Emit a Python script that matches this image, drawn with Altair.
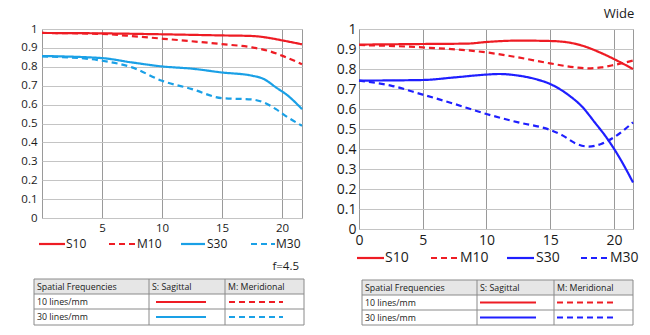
import altair as alt
import pandas as pd

FONT = "Open Sans"
SERIES = ["S10", "M10", "S30", "M30"]
DASHES = [[1, 0], [6, 4], [1, 0], [6, 4]]

# ---- Left chart (f=4.5) ----
L_S10_x = [0, 5, 10, 15, 17.5, 19, 20, 21.67]
L_S10_v = [0.979, 0.977, 0.972, 0.966, 0.963, 0.952, 0.940, 0.919]
L_M10_x = [0, 5, 7, 10, 15, 17.5, 19, 20, 21.67]
L_M10_v = [0.979, 0.974, 0.965, 0.949, 0.920, 0.903, 0.882, 0.859, 0.814]
L_S30_x = [0, 5, 7.5, 10, 12.5, 15, 17.5, 18.5, 19.5, 20.5, 21.67]
L_S30_v = [0.857, 0.846, 0.823, 0.802, 0.790, 0.770, 0.753, 0.735, 0.691, 0.647, 0.576]
L_M30_x = [0, 4, 5, 7.5, 10, 12.5, 15, 17.5, 18.5, 19.5, 20.5, 21.67]
L_M30_v = [0.855, 0.841, 0.832, 0.797, 0.726, 0.682, 0.634, 0.627, 0.611, 0.576, 0.532, 0.488]

# ---- Right chart (Wide) ----
R_S10_x = [0, 5, 8.5, 10, 12.5, 15, 16.5, 17.5, 19, 20, 21.5]
R_S10_v = [0.922, 0.925, 0.927, 0.935, 0.942, 0.940, 0.932, 0.917, 0.880, 0.850, 0.800]
R_M10_x = [0, 5, 10, 12.5, 15, 17, 18, 19, 20, 21.5]
R_M10_v = [0.920, 0.908, 0.883, 0.858, 0.828, 0.808, 0.803, 0.808, 0.820, 0.842]
R_S30_x = [0, 5, 7.5, 10, 11, 12.5, 14, 15, 16.5, 17.5, 18.5, 19.5, 20.5, 21.5]
R_S30_v = [0.742, 0.745, 0.758, 0.772, 0.775, 0.767, 0.747, 0.725, 0.667, 0.612, 0.533, 0.450, 0.350, 0.233]
R_M30_x = [0, 2.5, 5, 7.5, 10, 12.5, 15, 16, 17, 18, 19, 20, 21.5]
R_M30_v = [0.742, 0.717, 0.672, 0.625, 0.575, 0.533, 0.495, 0.467, 0.428, 0.412, 0.425, 0.458, 0.533]

Y_TICKS = [0, 0.1, 0.2, 0.3, 0.4, 0.5, 0.6, 0.7, 0.8, 0.9, 1]
L_X_TICKS = [5, 10, 15, 20]
R_X_TICKS = [0, 5, 10, 15, 20]

TABLE_HEAD = ["Spatial Frequencies", "S: Sagittal", "M: Meridional"]
TABLE_ROWS = ["10 lines/mm", "30 lines/mm"]

RED = "#ee1c24"
L_BLUE = "#1aa0e6"
R_BLUE = "#1f1fff"
GRID_V = "#9a9a9a"
GRID_H = "#c4c4c4"
TABLE_LINE = "#8a8a8a"
TEXT = "#1a1a1a"

ONE = alt.Data(values=[{"k": 0}])


def long_df(xs_list, vs_list):
    rows = []
    for name, xs, vs in zip(SERIES, xs_list, vs_list):
        for x, v in zip(xs, vs):
            rows.append({"x": x, "v": v, "series": name})
    return pd.DataFrame(rows)


def rule(x1, x2, y1, y2, color, width=2, dash=None):
    kw = dict(color=color, strokeWidth=width)
    if dash is not None:
        kw["strokeDash"] = dash
    return alt.Chart(ONE).mark_rule(**kw).encode(
        x=alt.value(x1), x2=alt.value(x2), y=alt.value(y1), y2=alt.value(y2))


def box(x1, x2, y1, y2, fill=None, stroke=None):
    kw = dict(strokeWidth=1)
    kw["fill"] = fill if fill is not None else "transparent"
    if stroke is not None:
        kw["stroke"] = stroke
    return alt.Chart(ONE).mark_rect(**kw).encode(
        x=alt.value(x1), x2=alt.value(x2), y=alt.value(y1), y2=alt.value(y2))


def txt(x, y, s, size, align="left", color=TEXT):
    return alt.Chart(ONE).mark_text(
        text=s, fontSize=size, font=FONT, align=align, baseline="middle", color=color
    ).encode(x=alt.value(x), y=alt.value(y))


def panel(df, colors, xmax, xticks, axis_size, x_pad, y_pad):
    return alt.Chart(df).mark_line(interpolate="monotone", strokeWidth=2.2).encode(
        x=alt.X("x:Q", scale=alt.Scale(domain=[0, xmax], nice=False, zero=False),
                axis=alt.Axis(values=xticks, title=None, ticks=False, domain=False,
                              grid=True, gridColor=GRID_V, gridWidth=1,
                              labelFontSize=axis_size, labelFont=FONT, labelColor=TEXT,
                              labelPadding=x_pad, labelFlush=False, labelOverlap=False)),
        y=alt.Y("v:Q", scale=alt.Scale(domain=[0, 1], nice=False),
                axis=alt.Axis(values=Y_TICKS, format=".1~f", title=None, ticks=False,
                              domain=False, grid=True, gridColor=GRID_H, gridWidth=1,
                              labelFontSize=axis_size, labelFont=FONT, labelColor=TEXT,
                              labelPadding=y_pad, labelFlush=False, labelOverlap=False)),
        color=alt.Color("series:N", scale=alt.Scale(domain=SERIES, range=colors), legend=None),
        strokeDash=alt.StrokeDash("series:N", scale=alt.Scale(domain=SERIES, range=DASHES),
                                  legend=None),
    )


def legend_layers(items, y, size, colors):
    out = []
    for (x1, x2, tx), name, c, d in zip(items, SERIES, colors, DASHES):
        out.append(rule(x1, x2, y, y, c, 2.2, None if d == [1, 0] else [6, 4]))
        out.append(txt(tx, y, name, size))
    return out


def table_layers(x0, x1, y0, yh, yr, y1, c1, c2, tx, ys, sol, das, blue):
    out = [box(x0, x1, y0, yh, fill="#e6e6e6")]
    out.append(box(x0, x1, y0, y1, stroke=TABLE_LINE))
    out.append(rule(x0, x1, yh, yh, TABLE_LINE, 1))
    out.append(rule(x0, x1, yr, yr, TABLE_LINE, 1))
    out.append(rule(c1, c1, y0, y1, TABLE_LINE, 1))
    out.append(rule(c2, c2, y0, y1, TABLE_LINE, 1))
    for t, xx in zip(TABLE_HEAD, tx):
        out.append(txt(xx, ys[0], t, 8.8))
    for t, yy in zip(TABLE_ROWS, ys[1:]):
        out.append(txt(tx[0], yy, t, 8.8))
    for yy, c in zip(ys[1:], [RED, blue]):
        out.append(rule(sol[0], sol[1], yy, yy, c, 2))
        out.append(rule(das[0], das[1], yy, yy, c, 2, [6, 4]))
    return out


# Left panel
left_df = long_df([L_S10_x, L_M10_x, L_S30_x, L_M30_x], [L_S10_v, L_M10_v, L_S30_v, L_M30_v])
left_colors = [RED, RED, L_BLUE, L_BLUE]
left_lines = panel(left_df, left_colors, 21.67, L_X_TICKS, 11.5, 4, 5)
left_extra = [box(-41, -40, -28, -27, fill="transparent")]
left_extra += legend_layers([(-3, 23, 24), (67, 93, 95), (139, 163, 165), (209, 233, 234)],
                            215, 12, left_colors)
left_extra.append(txt(257, 238, "f=4.5", 11.5, align="right"))
left_extra += table_layers(-8, 262, 250, 265, 280, 296, 107, 183, [-5, 110, 186],
                           [258, 273, 288], (114, 164), (187, 241), L_BLUE)
left = alt.layer(left_lines, *left_extra).properties(width=260, height=189)

# Right panel
right_df = long_df([R_S10_x, R_M10_x, R_S30_x, R_M30_x], [R_S10_v, R_M10_v, R_S30_v, R_M30_v])
right_colors = [RED, RED, R_BLUE, R_BLUE]
right_lines = panel(right_df, right_colors, 21.5, R_X_TICKS, 14, 4, 3)
right_extra = [txt(260, -15, "Wide", 13, align="center")]
right_extra += legend_layers([(-2, 25, 26), (72, 100, 101), (148, 175, 177), (222, 250, 251)],
                             229, 14, right_colors)
right_extra += table_layers(3, 274, 251, 266, 281, 296, 118, 195, [6, 121, 198],
                            [258.5, 273.5, 288.5], (121, 177), (198, 255), R_BLUE)
right = alt.layer(right_lines, *right_extra).properties(width=274, height=200)

chart = alt.hconcat(left, right, spacing=57, bounds="flush").resolve_scale(
    x="independent", y="independent", color="independent", strokeDash="independent"
).properties(padding=0, background="white").configure_view(stroke="#9a9a9a", strokeWidth=1)

chart.save("out.html", embed_options={"renderer": "svg", "actions": False})
